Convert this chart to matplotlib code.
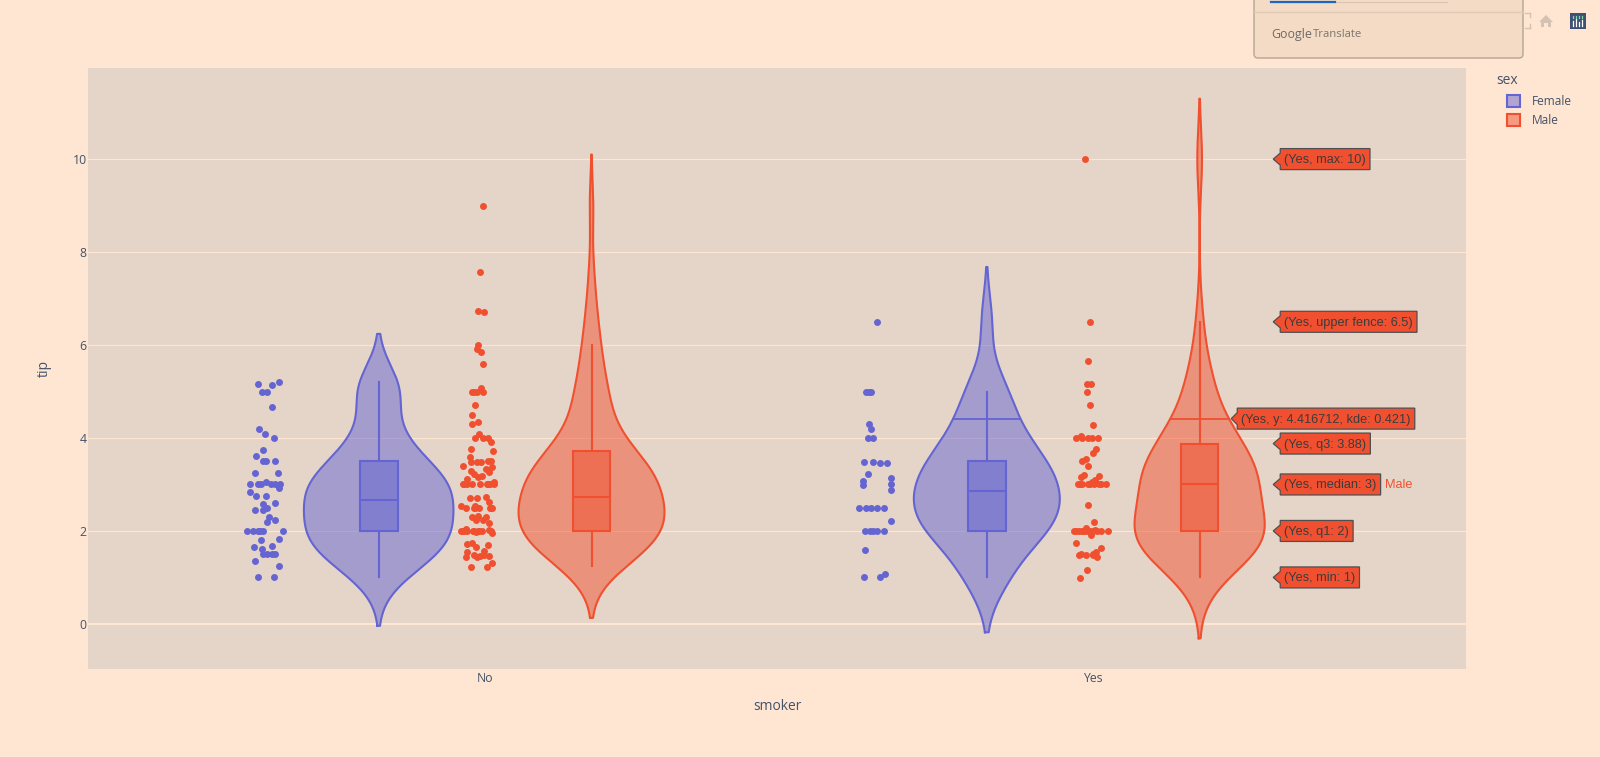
#!/usr/bin/env python3
"""Tips violin chart, strip points on the left of each violin, hover labels on Male/Yes."""
import matplotlib
matplotlib.use("Agg")
import numpy as np
import matplotlib.pyplot as plt
from matplotlib.patches import Patch, Polygon, Rectangle, FancyBboxPatch

W, H = 1600, 757

smokers = ["No", "Yes"]
sexes = ["Female", "Male"]

# tip values read from the strip points, offsets are relative to the smoker category
tip_f_no = [5.17, 5.14, 5.2, 5.0, 5.0, 4.67, 4.19, 4.08, 4.0, 3.74, 3.61, 3.5, 3.5, 3.5,
            3.25, 3.25, 3.0, 3.0, 3.0, 3.06, 3.0, 3.01, 3.0, 2.92, 2.83, 2.75, 2.75,
            2.59, 2.6, 2.5, 2.46, 2.45, 2.3, 2.2, 2.23, 2.0, 2.0, 2.0, 2.0, 2.0, 2.0,
            1.83, 1.8, 1.66, 1.62, 1.67, 1.5, 1.5, 1.5, 1.5, 1.35, 1.25, 1.0, 1.0]
off_f_no = [-.374, -.351, -.339, -.367, -.358, -.350, -.371, -.362, -.347, -.365, -.376,
            -.366, -.360, -.345, -.378, -.340, -.386, -.374, -.368, -.361, -.352, -.345,
            -.337, -.339, -.386, -.377, -.361, -.366, -.346, -.359, -.378, -.365, -.355,
            -.359, -.346, -.391, -.381, -.374, -.370, -.366, -.333, -.339, -.368, -.380,
            -.367, -.350, -.365, -.359, -.351, -.345, -.378, -.339, -.373, -.347]

# last seven of the male lists are dots hidden under their neighbours
tip_m_no = [9.0, 7.58, 6.73, 6.7, 6.0, 5.92, 5.85, 5.6, 5.07, 5.0, 5.0, 5.0, 5.0, 4.7, 4.5,
            4.3, 4.34, 4.08, 4.0, 4.0, 4.0, 3.92, 3.76, 3.71, 3.6, 3.48, 3.48, 3.48, 3.5,
            3.5, 3.4, 3.38, 3.34, 3.3, 3.26, 3.23, 3.18, 3.15, 3.11, 3.0, 3.0, 3.0, 3.0,
            3.0, 3.0, 3.05, 3.0, 2.71, 2.7, 2.73, 2.63, 2.53, 2.49, 2.54, 2.49, 2.49,
            2.49, 2.49, 2.33, 2.3, 2.3, 2.23, 2.23, 2.17, 2.0, 2.0, 2.04, 2.0, 2.0, 1.97,
            2.0, 2.0, 2.02, 1.99, 1.95, 1.7, 1.72, 1.74, 1.65, 1.55, 1.56, 1.49, 1.47,
            1.49, 1.44, 1.46, 1.43, 1.3, 1.23, 1.23,
            2.0, 2.0, 2.0, 2.5, 2.5, 3.0, 3.0]
off_m_no = [-.004, -.008, -.012, -.002, -.011, -.013, -.007, -.003, -.006, -.022, -.018,
            -.014, -.004, -.016, -.021, -.022, -.011, -.010, -.016, -.004, .004, .009,
            -.023, .013, -.025, -.023, -.014, -.006, .005, .009, -.036, .012, .002, -.024,
            .007, -.019, -.005, -.012, -.029, -.037, -.034, -.021, -.008, .003, .008, .015,
            .014, -.025, -.014, .002, .006, -.039, -.031, -.017, -.019, -.010, .008, .012,
            -.012, -.021, .002, -.015, -.004, .007, -.039, -.036, -.031, -.029, -.020,
            -.015, -.010, -.005, .007, .010, .012, .005, -.029, -.021, -.015, -.029, -.002,
            -.018, -.008, -.001, -.014, .006, -.031, .012, .003, -.024,
            -.034, -.018, -.012, -.017, .010, -.030, .005]

tip_f_yes = [6.5, 5.0, 5.0, 5.0, 4.3, 4.19, 4.0, 4.0, 3.49, 3.49, 3.47, 3.47, 3.23, 3.13,
             3.08, 2.99, 3.0, 2.88, 2.49, 2.49, 2.49, 2.49, 2.49, 2.22, 2.0, 2.0, 2.0,
             2.0, 2.0, 1.6, 1.08, 1.0, 1.0]
off_f_yes = [-.355, -.373, -.368, -.365, -.369, -.366, -.371, -.362, -.377, -.362, -.351,
             -.339, -.371, -.333, -.378, -.379, -.332, -.333, -.385, -.373, -.365, -.356,
             -.344, -.332, -.376, -.367, -.362, -.355, -.344, -.376, -.342, -.377, -.351]

tip_m_yes = [10.0, 6.5, 5.65, 5.16, 5.16, 5.0, 4.72, 4.29, 4.0, 4.05, 4.0, 4.0, 4.0, 4.0,
             3.76, 3.68, 3.5, 3.55, 3.4, 3.2, 3.15, 3.18, 3.1, 3.06, 3.0, 3.0, 3.0, 3.0,
             3.0, 3.0, 3.0, 3.0, 3.0, 2.55, 2.19, 2.0, 2.0, 2.0, 2.07, 2.0, 2.02, 1.91,
             2.0, 2.0, 1.75, 1.49, 1.49, 1.49, 1.54, 1.63, 1.43, 1.15, 0.99,
             2.0, 2.0, 2.0, 2.0, 2.0, 1.5, 1.5]
off_m_yes = [-.013, -.005, -.008, -.011, -.003, -.010, -.005, -.001, -.029, -.020, -.019,
             -.009, -.002, .008, .004, -.001, -.019, -.012, -.009, -.015, -.020, .009,
             .003, -.002, -.025, -.021, -.019, -.008, -.005, .002, .009, .013, .021,
             -.008, .001, -.032, -.024, -.019, -.012, -.010, .003, -.003, .012, .025,
             -.029, -.023, -.012, -.001, .004, .012, .006, -.011, -.021,
             -.028, -.015, -.006, .000, .007, -.020, .000]

# one entry per violin: Female/No, Male/No, Female/Yes, Male/Yes
violin_pos = [-0.175, 0.175, 0.825, 1.175]
violin_bw = [0.52, 0.55, 0.59, 0.65]
violin_halfwidth = [0.123, 0.120, 0.120, 0.107]
q1 = [2.0, 2.0, 2.0, 2.0]
median = [2.67, 2.73, 2.87, 3.0]
q3 = [3.5, 3.72, 3.5, 3.88]
whisker_lo = [1.0, 1.25, 1.0, 1.0]
whisker_hi = [5.2, 6.0, 5.0, 6.5]

hover_y = 4.416712
hover_labels = ["(Yes, max: 10)", "(Yes, upper fence: 6.5)", "(Yes, q3: 3.88)",
                "(Yes, median: 3)", "(Yes, q1: 2)", "(Yes, min: 1)"]
hover_values = [10, 6.5, 3.88, 3, 2, 1]

PAPER = "#ffe6d2"
PLOT_BG = "#e5d5c8"
BLUE = "#6464d2"
RED = "#f0502f"
TEXT = "#45526a"


def px_box(x0, y0, x1, y1):
    """left, bottom, width, height in figure fractions from pixel coordinates (y down)."""
    return [x0 / W, 1 - y1 / H, (x1 - x0) / W, (y1 - y0) / H]


def kde(values, bw, grid):
    values = np.asarray(values)
    d = (grid[:, None] - values[None, :]) / bw
    return np.exp(-0.5 * d ** 2).sum(axis=1) / (len(values) * bw * np.sqrt(2 * np.pi))


def draw_violin(ax, values, i, color):
    bw = violin_bw[i]
    pos = violin_pos[i]
    grid = np.linspace(min(values) - 2 * bw, max(values) + 2 * bw, 300)
    dens = kde(values, bw, grid)
    scale = violin_halfwidth[i] / dens.max()
    half = dens * scale
    ax.fill_betweenx(grid, pos - half, pos + half, color=color, alpha=0.5, lw=0, zorder=2)
    ax.plot(np.r_[pos - half, (pos + half)[::-1], pos - half[0]],
            np.r_[grid, grid[::-1], grid[0]], color=color, lw=1.5, zorder=3)

    # box and whiskers inside the violin
    box_w = 0.031
    ax.add_patch(Rectangle((pos - box_w, q1[i]), 2 * box_w, q3[i] - q1[i], facecolor=color,
                           alpha=0.5, lw=0, zorder=3))
    ax.add_patch(Rectangle((pos - box_w, q1[i]), 2 * box_w, q3[i] - q1[i], fill=False,
                           edgecolor=color, lw=1.5, zorder=4))
    ax.plot([pos - box_w, pos + box_w], [median[i], median[i]], color=color, lw=1.5, zorder=4)
    ax.plot([pos, pos], [whisker_lo[i], q1[i]], color=color, lw=1.5, zorder=4)
    ax.plot([pos, pos], [q3[i], whisker_hi[i]], color=color, lw=1.5, zorder=4)
    return float(kde(values, bw, np.array([hover_y]))[0] * scale)


def tag(fig, ax, renderer, x, y, label, gap=7):
    """Hover tag: dark outlined box with a small arrow to the left of it."""
    tx, ty = ax.transData.transform((x, y))
    t = fig.text((tx + gap + 4) / W, (ty - 1) / H, label, family="Liberation Sans", fontsize=9.2,
                 color="#3c3c3c", va="center", ha="left", zorder=11)
    box = t.get_window_extent(renderer)
    x0 = tx + gap
    x1 = box.x1 + 4
    top, bot = ty + 10.5, ty - 10.5
    pts = [(tx, ty), (x0, ty + 6), (x0, top), (x1, top), (x1, bot), (x0, bot), (x0, ty - 6)]
    fig.add_artist(Polygon(pts, closed=True, transform=None, facecolor=RED,
                           edgecolor="#4f4f4f", lw=0.9, zorder=10))
    return x1


def chrome(fig):
    """Translate popup and plotly modebar sitting on top of the figure."""
    bg = fig.add_axes([0, 0, 1, 1], zorder=20)
    bg.set_xlim(0, W)
    bg.set_ylim(H, 0)
    bg.axis("off")
    bg.patch.set_alpha(0)
    bg.add_patch(FancyBboxPatch((1254, -20), 269, 78, boxstyle="round,pad=0,rounding_size=4",
                                facecolor="#f3dbc5", edgecolor="#b5a595", lw=1))
    bg.plot([1254, 1523], [11.5, 11.5], color="#e0c9b6", lw=1)
    bg.plot([1271, 1447], [2, 2], color="#d9c5b5", lw=0.8)
    bg.plot([1271, 1335], [2, 2], color="#1a66c0", lw=1.6)
    bg.text(1271, 34.5, "Google", family="Open Sans", fontsize=8.9, color="#6e6a66", va="center")
    bg.text(1313, 34.5, "Translate", family="Open Sans", fontsize=8.2, color="#7a7570", va="center")

    # modebar: cut off autoscale icon, home, logo
    for ys in ([13, 17], [24, 28]):
        bg.plot([1530, 1530], ys, color="#d5c2b2", lw=1)
    bg.plot([1525, 1530], [13, 13], color="#d5c2b2", lw=1)
    bg.plot([1525, 1530], [28, 28], color="#d5c2b2", lw=1)
    bg.add_patch(Polygon([(1539, 22), (1546, 15), (1553, 22), (1551, 22), (1551, 27), (1548, 27),
                          (1548, 23), (1544, 23), (1544, 27), (1541, 27), (1541, 22)],
                         closed=True, facecolor="#d5c2b2", lw=0))
    bg.add_patch(Rectangle((1570, 13), 16, 16, facecolor="#3f4f75", lw=0))
    for bx, by in zip([1573, 1576, 1579, 1582], [21, 19, 22, 20]):
        bg.plot([bx, bx], [by, 26], color="white", lw=0.9)
    for bx in [1573, 1576, 1579, 1582]:
        bg.plot([bx, bx], [16, 17.5], color="#7fd6a0", lw=0.9)


def main():
    plt.rcParams["font.family"] = ["Open Sans", "DejaVu Sans"]
    fig = plt.figure(figsize=(W / 100, H / 100), dpi=100, facecolor=PAPER)
    ax = fig.add_axes(px_box(88, 68, 1466, 669), facecolor=PLOT_BG)
    ax.set_xlim(-0.653, 1.613)
    ax.set_ylim(-0.97, 11.96)

    # gridlines
    ax.set_axisbelow(True)
    ax.set_yticks([0, 2, 4, 6, 8, 10])
    ax.grid(axis="y", color=PAPER, lw=0.8)
    ax.axhline(0, color=PAPER, lw=1.5, zorder=1)
    ax.set_xticks([0, 1])
    ax.set_xticklabels(smokers)
    ax.tick_params(length=0, labelsize=8.8, labelcolor=TEXT)
    ax.tick_params(axis="x", pad=2.5)
    ax.tick_params(axis="y", pad=1)
    for s in ax.spines.values():
        s.set_visible(False)
    fig.text(777 / W, 1 - 706 / H, "smoker", fontsize=10, color=TEXT, ha="center", va="center")
    fig.text(44 / W, 1 - 368 / H, "tip", fontsize=10, color=TEXT, rotation=90, ha="center", va="center")

    # strip points
    ax.scatter(off_f_no, tip_f_no, s=25, color=BLUE, lw=0, zorder=3)
    ax.scatter(off_m_no, tip_m_no, s=25, color=RED, lw=0, zorder=3)
    ax.scatter(1 + np.array(off_f_yes), tip_f_yes, s=25, color=BLUE, lw=0, zorder=3)
    ax.scatter(1 + np.array(off_m_yes), tip_m_yes, s=25, color=RED, lw=0, zorder=3)

    draw_violin(ax, tip_f_no, 0, BLUE)
    draw_violin(ax, tip_m_no, 1, RED)
    hw_f = draw_violin(ax, tip_f_yes, 2, BLUE)
    hw_m = draw_violin(ax, tip_m_yes, 3, RED)

    # hover line across both Yes violins
    ax.plot([violin_pos[2] - hw_f, violin_pos[2] + hw_f], [hover_y, hover_y], color=BLUE, lw=1.3, zorder=4)
    ax.plot([violin_pos[3] - hw_m, violin_pos[3] + hw_m], [hover_y, hover_y], color=RED, lw=1.3, zorder=4)

    handles = [Patch(facecolor=(0.392, 0.392, 0.824, 0.5), edgecolor=BLUE, lw=1.5),
               Patch(facecolor=(0.941, 0.314, 0.184, 0.5), edgecolor=RED, lw=1.5)]
    fig.legend(handles, sexes, loc="upper left", frameon=False,
               bbox_to_anchor=(1496 / W, 1 - 84.5 / H), fontsize=8.6,
               handlelength=1.1, handleheight=1.1, handletextpad=1.0,
               labelspacing=0.5, labelcolor=TEXT)
    fig.text(1496 / W, 1 - 81 / H, "sex", fontsize=10, color=TEXT, ha="left", va="center")

    # hover tags on the Male/Yes violin
    renderer = fig.canvas.get_renderer()
    hover_x = 1.296
    right = None
    for label, val in zip(hover_labels, hover_values):
        x1 = tag(fig, ax, renderer, hover_x, val, label)
        if val == 3:
            right = x1
    tag(fig, ax, renderer, 1.227, hover_y, "(Yes, y: 4.416712, kde: 0.421)", gap=6)
    _, ty = ax.transData.transform((hover_x, 3))
    fig.text((right + 4) / W, (ty - 1) / H, "Male", family="Liberation Sans", fontsize=9.2,
             color=RED, va="center", ha="left", zorder=11)

    chrome(fig)
    fig.savefig("out.png", dpi=100, facecolor=PAPER)


if __name__ == "__main__":
    main()
